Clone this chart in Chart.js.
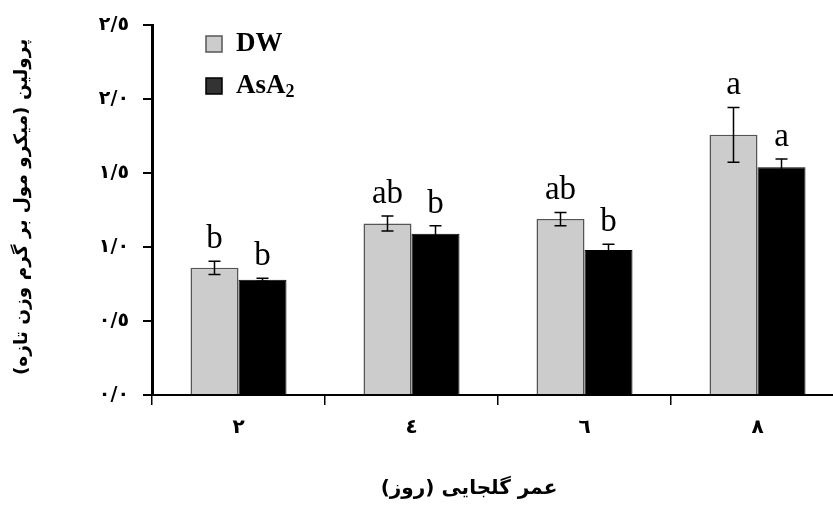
<!DOCTYPE html>
<html>
<head>
<meta charset="utf-8">
<script src="https://cdn.jsdelivr.net/npm/chart.js"></script>
<style>
  html, body { margin: 0; padding: 0; background: #fff; overflow: hidden; }
  #wrap { width: 860px; height: 505px; }
</style>
</head>
<body>
<div id="wrap"><canvas id="prolineChart"></canvas></div>
<script>
// dados
const categories = ['٢', '٤', '٦', '٨'];
const dwValues = [0.86, 1.16, 1.19, 1.76];
const dwErr = [0.045, 0.05, 0.045, 0.185];
const asaValues = [0.78, 1.09, 0.98, 1.54];
const asaErr = [0.01, 0.055, 0.04, 0.057];
const dwLetters = ['b', 'ab', 'ab', 'a'];
const asaLetters = ['b', 'b', 'b', 'a'];
const yTicks = ['٠/٠', '٠/٥', '١/٠', '١/٥', '٢/٠', '٢/٥'];

const yTitle = 'پرولین (میکرو مول بر گرم وزن تازه)';
const xTitle = 'عمر گلجایی (روز)';

// barras de erro + letras + legenda + títulos
const extrasPlugin = {
  id: 'extras',
  afterDatasetsDraw(chart) {
    const ctx = chart.ctx;
    const y = chart.scales.y;
    const errs = [dwErr, asaErr];
    const letters = [dwLetters, asaLetters];
    ctx.save();
    chart.data.datasets.forEach((ds, i) => {
      const meta = chart.getDatasetMeta(i);
      meta.data.forEach((bar, j) => {
        const v = ds.data[j];
        const top = y.getPixelForValue(v + errs[i][j]);
        const bot = y.getPixelForValue(v - errs[i][j]);
        ctx.strokeStyle = '#000';
        ctx.lineWidth = 1.5;
        ctx.beginPath();
        ctx.moveTo(bar.x, top); ctx.lineTo(bar.x, bot);
        ctx.moveTo(bar.x - 6, top); ctx.lineTo(bar.x + 6, top);
        ctx.moveTo(bar.x - 6, bot); ctx.lineTo(bar.x + 6, bot);
        ctx.stroke();
        ctx.fillStyle = '#000';
        ctx.font = '33px "Liberation Serif"';
        ctx.textAlign = 'center';
        ctx.textBaseline = 'alphabetic';
        ctx.fillText(letters[i][j], bar.x, top - 13);
      });
    });

    // legenda
    const leg = [['#cccccc', '#555', 'DW', 36], ['#333333', '#000', 'AsA', 78]];
    leg.forEach(l => {
      ctx.fillStyle = l[0];
      ctx.fillRect(206, l[3], 16, 16);
      ctx.strokeStyle = l[1];
      ctx.lineWidth = 1.5;
      ctx.strokeRect(206, l[3], 16, 16);
      ctx.fillStyle = '#000';
      ctx.font = 'bold 27px "Liberation Serif"';
      ctx.textAlign = 'left';
      ctx.textBaseline = 'middle';
      ctx.fillText(l[2], 236, l[3] + 8);
    });
    const w = ctx.measureText('AsA').width;
    ctx.font = 'bold 18px "Liberation Serif"';
    ctx.fillText('2', 236 + w, 78 + 14);

    // títulos dos eixos
    ctx.direction = 'rtl';
    ctx.fillStyle = '#000';
    ctx.textAlign = 'center';
    ctx.textBaseline = 'middle';
    ctx.font = 'bold 20px "DejaVu Sans"';
    ctx.fillText(xTitle, 469, 489);
    ctx.font = 'bold 18.5px "DejaVu Sans"';
    ctx.translate(22, 207);
    ctx.rotate(-Math.PI / 2);
    ctx.fillText(yTitle, 0, 0);
    ctx.restore();
  }
};

const ctx_chart = document.getElementById('prolineChart').getContext('2d');
const chart = new Chart(ctx_chart, {
  type: 'bar',
  data: {
    labels: categories,
    datasets: [{
      label: 'DW',
      data: dwValues,
      backgroundColor: '#cccccc',
      borderColor: '#555',
      borderWidth: 1.5,
      borderSkipped: 'bottom'
    }, {
      label: 'AsA2',
      data: asaValues,
      backgroundColor: '#000',
      borderColor: '#000',
      borderWidth: 1,
      borderSkipped: 'bottom'
    }]
  },
  options: {
    responsive: true,
    maintainAspectRatio: false,
    animation: false,
    categoryPercentage: 0.555,
    barPercentage: 1.0,
    layout: { padding: { top: 24, right: 16, left: 0, bottom: 0 } },
    plugins: { legend: { display: false }, tooltip: { enabled: false } },
    scales: {
      x: {
        grid: { offset: true, drawOnChartArea: false, tickLength: 10, color: '#000', lineWidth: 1.5 },
        border: { display: true, color: '#000', width: 2 },
        ticks: { color: '#000', font: { family: 'DejaVu Sans', size: 20, weight: 'bold' }, padding: 11 },
        afterFit(scale) { scale.height = 110; }
      },
      y: {
        min: 0,
        max: 2.5,
        grid: { drawOnChartArea: false, tickLength: 9, color: '#000', lineWidth: 2 },
        border: { display: true, color: '#000', width: 3 },
        ticks: {
          stepSize: 0.5,
          color: '#000',
          font: { family: 'DejaVu Sans', size: 19, weight: 'bold' },
          padding: 14,
          callback: (v) => yTicks[Math.round(v / 0.5)]
        },
        afterFit(scale) { scale.width = 152; }
      }
    }
  },
  plugins: [extrasPlugin]
});
</script>
</body>
</html>
